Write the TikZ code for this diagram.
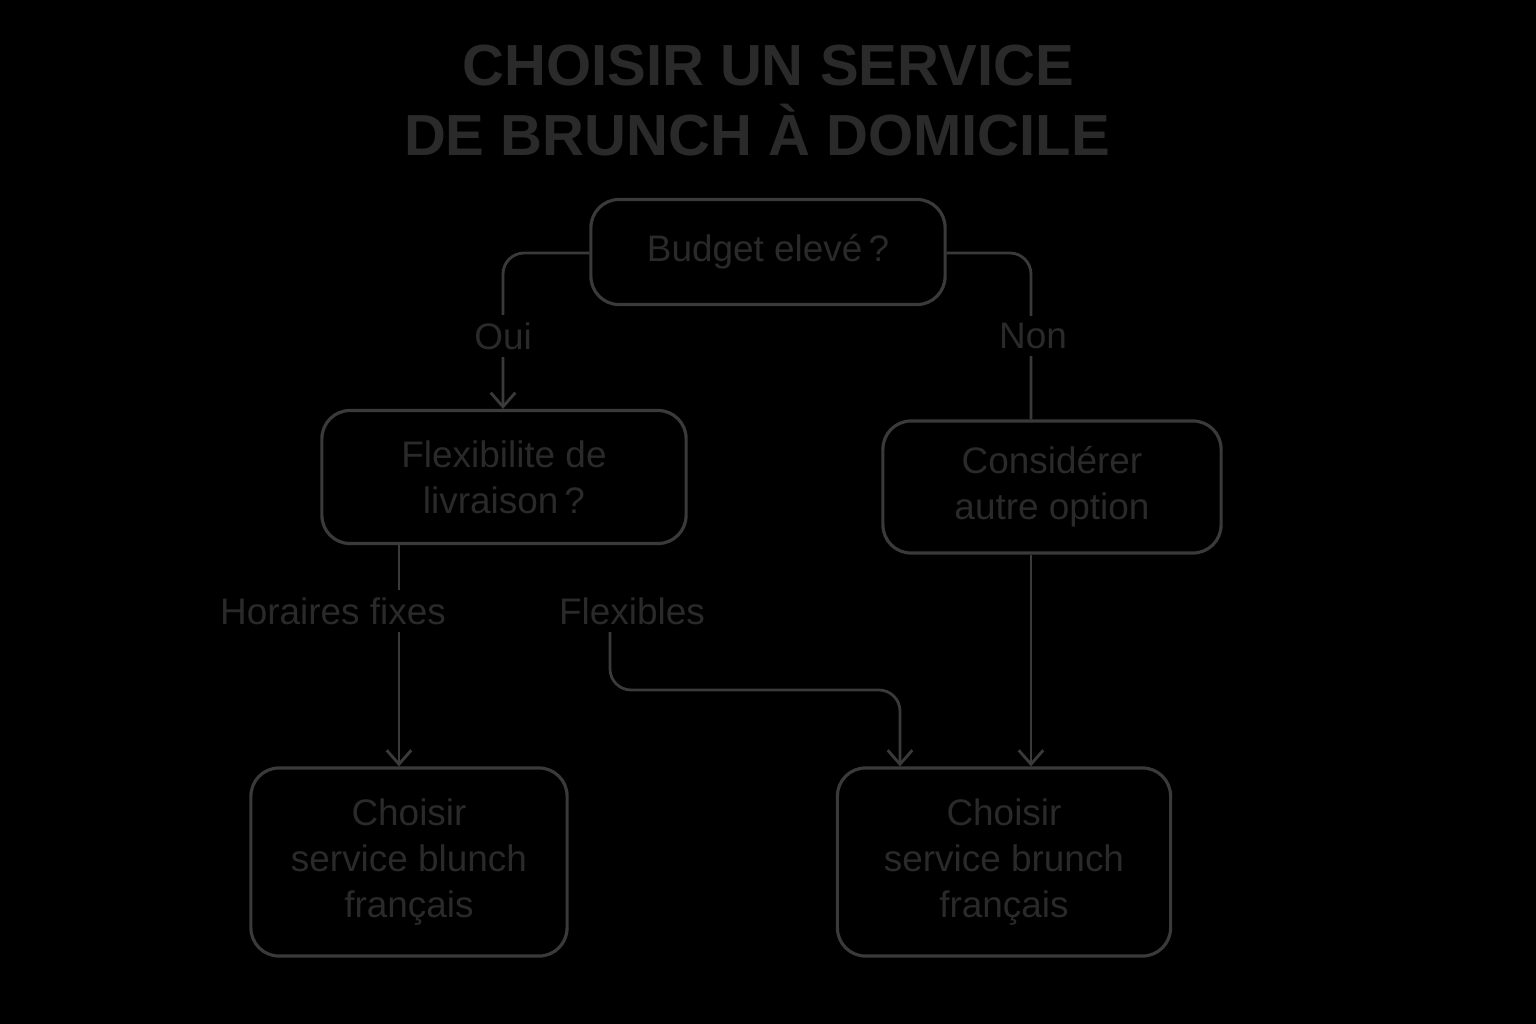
\documentclass[tikz,border=0pt]{standalone}
\usepackage{fontspec}
\setmainfont{Liberation Sans}
\usetikzlibrary{arrows.meta}
\definecolor{ln}{HTML}{3A3A3A}
\definecolor{tx}{HTML}{2A2A2A}
\begin{document}
\begin{tikzpicture}[x=0.01cm,y=-0.01cm,
  box/.style={draw=ln,line width=0.9pt,rounded corners=8pt,text=tx,font=\fontsize{10.5pt}{13pt}\selectfont,align=center,inner sep=0pt},
  lbl/.style={text=tx,font=\fontsize{10.5pt}{13pt}\selectfont,fill=black,inner sep=2pt},
  con/.style={draw=ln,line width=0.8pt,rounded corners=6pt},
  arr/.style={con,-{Straight Barb[length=4pt,width=7pt]}}]
\fill[black] (0,0) rectangle (1536,1024);
\useasboundingbox (0,0) rectangle (1536,1024);
\node[text=tx,font=\bfseries\fontsize{16.5pt}{20pt}\selectfont] (t1) at (768,66) {CHOISIR UN SERVICE};
\node[text=tx,font=\bfseries\fontsize{16.5pt}{20pt}\selectfont] (t2) at (757,130) {DE BRUNCH À DOMICILE};
\node[box,minimum width=3.54cm,minimum height=1.05cm] (b) at (768,252) {Budget elevé\,?};
\node[box,minimum width=3.64cm,minimum height=1.33cm] (f) at (504,477) {Flexibilite de\\livraison\,?};
\node[box,minimum width=3.38cm,minimum height=1.32cm] (c) at (1052,487) {Considérer\\autre option};
\node[box,minimum width=3.16cm,minimum height=1.88cm] (l) at (409,862) {Choisir\\service blunch\\français};
\node[box,minimum width=3.33cm,minimum height=1.88cm] (r) at (1004,862) {Choisir\\service brunch\\français};
\draw[arr] (b.west |- 0,253) -| (f.north -| 503,0);
\node[lbl] (oui) at (503,336) {Oui};
\draw[con] (b.east |- 0,253) -| (c.north -| 1031,0);
\node[lbl] (non) at (1033,336) {Non};
\draw[arr] (f.south -| 399,0) -- (l.north -| 399,0);
\node[lbl] (hf) at (333,611) {Horaires fixes};
\node[lbl] (fl) at (632,611) {Flexibles};
\draw[arr] (610,632) |- (900,690) -- (r.north -| 900,0);
\draw[arr] (c.south -| 1031,0) -- (r.north -| 1031,0);
\end{tikzpicture}
\end{document}
